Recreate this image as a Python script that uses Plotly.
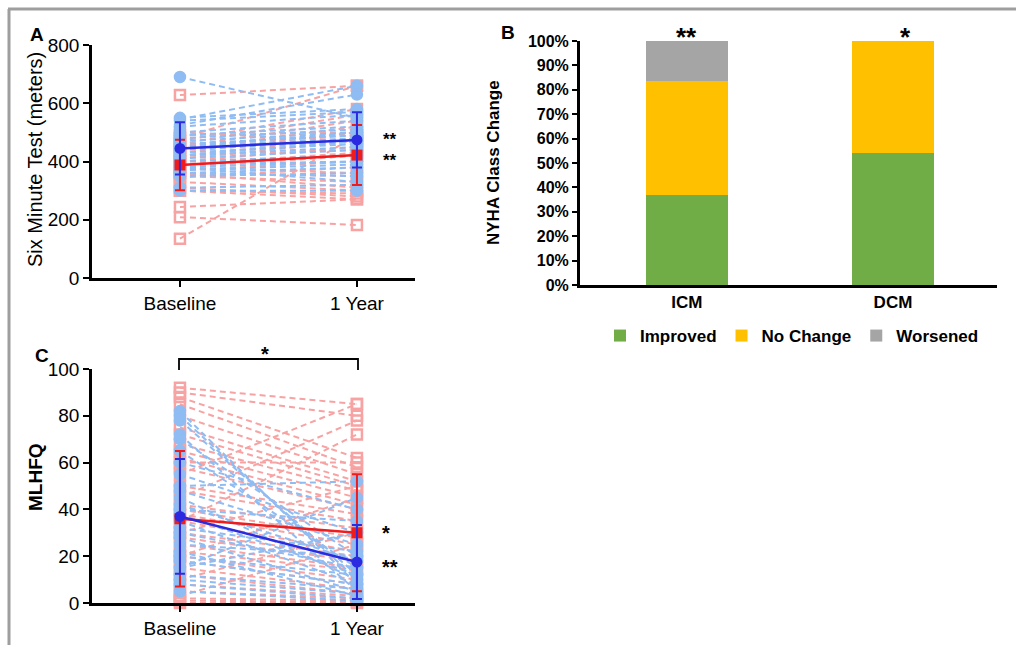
import plotly.graph_objects as go

# ---------------- data ----------------
timepoints = ["Baseline", "1 Year"]

# Panel A: six minute walk test (meters), paired values (baseline, 1 year)
smwt_icm_base = [628, 135, 244, 209, 300, 310, 300, 330, 350, 360, 370, 380, 390, 400, 410,
                 420, 430, 440, 450, 460, 470, 480, 490, 500, 380, 420, 345, 400, 360, 455]
smwt_icm_1yr = [660, 490, 270, 182, 270, 280, 290, 300, 330, 350, 400, 420, 430, 450, 470,
                480, 500, 520, 540, 560, 580, 660, 500, 470, 360, 440, 380, 420, 310, 490]
smwt_dcm_base = [690, 545, 525, 550, 540, 520, 500, 490, 480, 470, 460, 450, 440, 430, 420,
                 410, 400, 390, 380, 370, 360, 350, 300, 310, 420, 450, 380, 360]
smwt_dcm_1yr = [550, 660, 630, 580, 570, 560, 540, 520, 510, 500, 490, 480, 470, 460, 450,
                440, 420, 400, 400, 390, 380, 360, 300, 320, 470, 500, 330, 350]
smwt_icm_mean = [388, 422]
smwt_icm_sd = [87, 103]
smwt_dcm_mean = [445, 474]
smwt_dcm_sd = [90, 95]

# Panel C: MLHFQ, paired values
mlhfq_icm_base = [92, 90, 88, 85, 80, 75, 72, 68, 65, 62, 58, 55, 45, 35, 50, 48, 42, 40, 38,
                  35, 30, 28, 25, 22, 20, 18, 15, 12, 8, 5, 2, 1, 10, 20, 30, 3, 60, 0]
mlhfq_icm_1yr = [85, 80, 62, 58, 55, 52, 50, 48, 45, 42, 40, 85, 78, 72, 38, 35, 32, 28, 25,
                 22, 20, 18, 15, 14, 10, 8, 6, 4, 3, 2, 1, 0.5, 30, 45, 50, 25, 60, 0]
mlhfq_dcm_base = [82, 80, 78, 72, 70, 65, 60, 55, 50, 48, 45, 42, 40, 38, 35, 32, 30, 28, 25,
                  22, 20, 18, 15, 12, 10, 8, 5, 15]
mlhfq_dcm_1yr = [8, 10, 12, 5, 20, 15, 40, 30, 52, 25, 10, 18, 35, 12, 8, 22, 15, 5, 20,
                 3, 12, 8, 30, 6, 4, 2, 1, 45]
mlhfq_icm_mean = [36, 30]
mlhfq_icm_sd = [29, 25]
mlhfq_dcm_mean = [37, 17.5]
mlhfq_dcm_sd = [24.5, 15.8]

# Panel B: NYHA class change (%)
groups = ["ICM", "DCM"]
improved = [37, 54]
no_change = [46.5, 46]
worsened = [16.5, 0]
pct_ticks = list(range(0, 101, 10))

# ---------------- styling ----------------
FONT = "Liberation Sans, Arial, sans-serif"
RED_LIGHT = "#f7a3a3"
BLUE_LIGHT = "#8fbcf2"
RED = "#ee1c1c"
BLUE = "#2a2ae0"
W, H = 1016, 645


def px_x(p):
    return p / W


def px_y(p):
    return 1 - p / H


def paired(base, after):
    xs, ys = [], []
    for b, a in zip(base, after):
        xs += [0, 1, None]
        ys += [b, a, None]
    return xs, ys


fig = go.Figure()


def add_paired_panel(xa, ya, icm_b, icm_a, dcm_b, dcm_a, icm_m, icm_s, dcm_m, dcm_s):
    for b, a, col, sym in [(icm_b, icm_a, RED_LIGHT, "square-open"),
                           (dcm_b, dcm_a, BLUE_LIGHT, "circle")]:
        xs, ys = paired(b, a)
        fig.add_trace(go.Scatter(
            x=xs, y=ys, mode="lines+markers", xaxis=xa, yaxis=ya, showlegend=False,
            line=dict(color=col, width=2, dash="6px,4px"),
            marker=dict(symbol=sym, size=10, color=col, line=dict(width=2.5, color=col)),
            cliponaxis=False, hoverinfo="skip"))
    for m, s, col, sym, size in [(icm_m, icm_s, RED, "square", 11),
                                 (dcm_m, dcm_s, BLUE, "circle", 11)]:
        fig.add_trace(go.Scatter(
            x=[0, 1], y=m, mode="lines+markers", xaxis=xa, yaxis=ya, showlegend=False,
            line=dict(color=col, width=2.5),
            marker=dict(symbol=sym, size=size, color=col),
            error_y=dict(type="data", array=s, color=col, thickness=2, width=5),
            cliponaxis=False))


add_paired_panel("x", "y", smwt_icm_base, smwt_icm_1yr, smwt_dcm_base, smwt_dcm_1yr,
                 smwt_icm_mean, smwt_icm_sd, smwt_dcm_mean, smwt_dcm_sd)
add_paired_panel("x3", "y3", mlhfq_icm_base, mlhfq_icm_1yr, mlhfq_dcm_base, mlhfq_dcm_1yr,
                 mlhfq_icm_mean, mlhfq_icm_sd, mlhfq_dcm_mean, mlhfq_dcm_sd)

# Panel B bars
for name, vals, col in [("Improved", improved, "#70ad47"),
                        ("No Change", no_change, "#ffc000"),
                        ("Worsened", worsened, "#a5a5a5")]:
    fig.add_trace(go.Bar(x=[0, 1], y=vals, name=name, marker=dict(color=col, line=dict(width=0)),
                         width=0.4, xaxis="x2", yaxis="y2"))

axis_common = dict(showgrid=False, zeroline=False, showline=True, linecolor="black",
                   linewidth=2.5, ticks="outside", tickcolor="black", tickwidth=2,
                   ticklen=6, automargin=False,
                   tickfont=dict(family=FONT, size=19, color="black"))

fig.update_layout(
    width=W, height=H, margin=dict(l=0, r=0, t=0, b=0, autoexpand=False),
    paper_bgcolor="white", plot_bgcolor="rgba(0,0,0,0)",
    barmode="stack", font=dict(family=FONT, color="black"),
    xaxis=dict(domain=[px_x(92), px_x(415)], range=[-0.497, 1.328], tickvals=[0, 1],
               ticktext=timepoints, anchor="y", **axis_common),
    yaxis=dict(domain=[px_y(278), px_y(45)], range=[0, 800], tickvals=[0, 200, 400, 600, 800],
               anchor="x", **axis_common),
    xaxis3=dict(domain=[px_x(92), px_x(415)], range=[-0.497, 1.328], tickvals=[0, 1],
                ticktext=timepoints, anchor="y3", **axis_common),
    yaxis3=dict(domain=[px_y(603), px_y(369)], range=[0, 100],
                tickvals=[0, 20, 40, 60, 80, 100], anchor="x3", **axis_common),
    xaxis2=dict(domain=[px_x(580), px_x(997)], range=[-0.519, 1.505], tickvals=[0, 1],
                ticktext=groups, anchor="y2", showgrid=False, zeroline=False, showline=True,
                linecolor="black", linewidth=3, ticks="", automargin=False,
                tickfont=dict(family=FONT, size=17, color="black", weight="bold")),
    yaxis2=dict(domain=[px_y(285), px_y(41)], range=[0, 100], tickvals=pct_ticks,
                ticktext=[f"{v}%" for v in pct_ticks], anchor="x2", showgrid=False,
                zeroline=False, showline=True, automargin=False,
                linecolor="black", linewidth=3, ticks="outside", ticklen=5, tickwidth=2,
                tickcolor="black",
                tickfont=dict(family=FONT, size=16, color="black", weight="bold")),
    legend=dict(orientation="h", x=px_x(600), y=px_y(336), yanchor="middle", xanchor="left",
                font=dict(family=FONT, size=17, color="black", weight="bold"),
                bgcolor="rgba(0,0,0,0)", traceorder="normal", itemwidth=30,
                tracegroupgap=0),
)

ann = []


def text(x, y, s, size, bold=False, angle=0):
    ann.append(dict(x=px_x(x), y=px_y(y), xref="paper", yref="paper", text=s, showarrow=False,
                    textangle=angle, xanchor="center", yanchor="middle",
                    font=dict(family=FONT, size=size, color="black",
                              weight="bold" if bold else "normal")))


text(37, 35, "A", 19, True)
text(508, 33, "B", 19, True)
text(42, 355, "C", 19, True)
text(35, 160, "Six Minute Test (meters)", 20, angle=-90)
text(493, 163, "NYHA Class Change", 17, True, angle=-90)
text(35, 477, "MLHFQ", 19, True, angle=-90)
text(390, 140, "**", 17, True)
text(390, 160, "**", 17, True)
text(386, 533, "*", 20, True)
text(390, 567, "**", 20, True)
text(265, 354, "*", 20, True)
text(686, 37, "**", 26, True)
text(905, 37, "*", 26, True)
fig.update_layout(annotations=ann)

shapes = [
    # frame
    dict(type="line", xref="paper", yref="paper", x0=px_x(8), x1=1, y0=px_y(9), y1=px_y(9),
         line=dict(color="#9e9e9e", width=3)),
    dict(type="line", xref="paper", yref="paper", x0=px_x(9), x1=px_x(9), y0=px_y(9), y1=0,
         line=dict(color="#9e9e9e", width=3)),
    # significance bracket in panel C
    dict(type="path", xref="paper", yref="paper",
         path=f"M {px_x(179)} {px_y(370)} L {px_x(179)} {px_y(359)} L {px_x(358)} {px_y(359)} L {px_x(358)} {px_y(370)}",
         line=dict(color="black", width=1.8)),
]
fig.update_layout(shapes=shapes)

fig.write_html("out.html", config={"displayModeBar": False},
               post_script="document.body.style.margin='0px';document.body.style.overflow='hidden';")
